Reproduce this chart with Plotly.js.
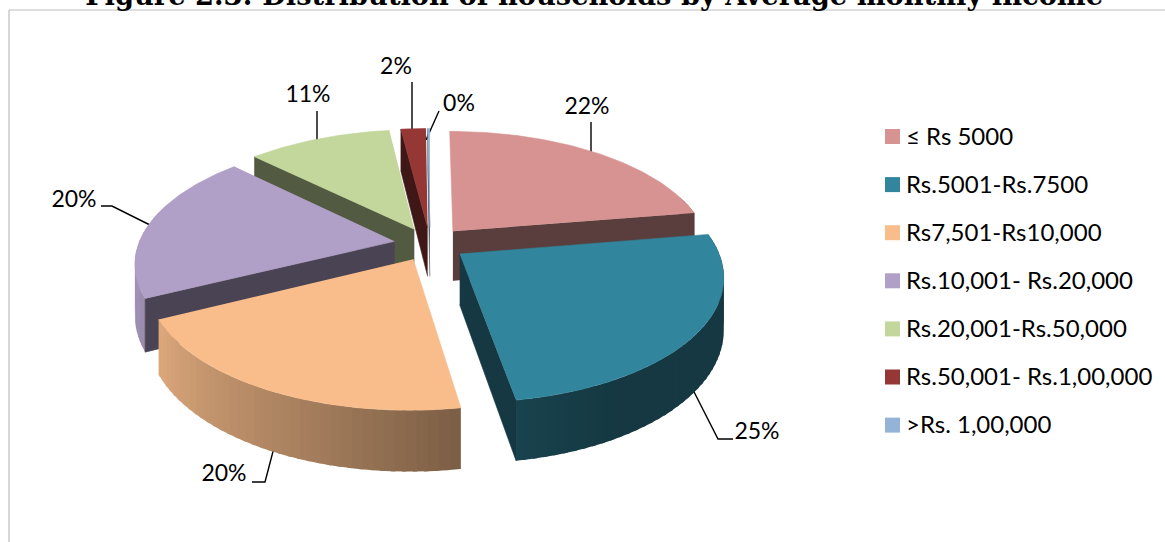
<!DOCTYPE html>
<html><head><meta charset="utf-8">
<script src="https://cdn.plot.ly/plotly-3.0.1.min.js"></script>
<style>html,body{margin:0;padding:0;background:#fff}#chart{width:1165px;height:542px}</style>
</head><body><div id="chart"></div>
<script>
var categories = ['≤ Rs 5000','Rs.5001-Rs.7500','Rs7,501-Rs10,000','Rs.10,001- Rs.20,000','Rs.20,001-Rs.50,000','Rs.50,001- Rs.1,00,000','>Rs. 1,00,000'];
var shares = [22.4,25.0,20.3,19.6,10.7,1.85,0.15];
var colors = ['#D79391','#31859C','#F8BD8B','#B09FC6','#C3D69B','#953735','#95B3D7'];
var drawOrder = [4,5,6,0,3,1,2];

// picture geometry of the tilted disc
var geo = {cx:430, cy:244, R:256, k:0.47, p:0.165, h:50, pull:36};
var labelPos = [[587,108.5],[757,433.5],[224,475.5],[74,201.5],[308,96.5],[396,68.5],[459,105.5]];
var leaderPaths = [
  [[591,160],[591,122]],
  [[688,380],[718,439],[733,439]],
  [[276,440],[265,482],[252,482]],
  [[158,229],[112,206],[101,206]],
  [[317,150],[317,111]],
  [[412,140],[412,82]],
  [[426,140],[439,111]]
];
var legendX = 892.5, legendTextX = 906, legendTop = 136.5, legendStep = 48.1;
var FONT = 'Lato, Carlito, sans-serif';

function rad(a){return a*Math.PI/180;}
function shade(hex,f){
  var n=parseInt(hex.slice(1),16);
  return 'rgb('+[(n>>16)&255,(n>>8)&255,n&255].map(function(c){return Math.round(c*f);}).join(',')+')';
}
// brightness of the outer wall by facing angle
var wallStops=[[0,.42],[150,.42],[171,.5],[205,.7],[241,.88],[270,.92],[360,.92]];
function wallShade(t){
  for(var i=1;i<wallStops.length;i++){
    if(t<=wallStops[i][0]){
      var a=wallStops[i-1],b=wallStops[i];
      return a[1]+(b[1]-a[1])*(t-a[0])/(b[0]-a[0]);
    }
  }
  return .9;
}
function project(x,y,z){
  var s=1/(1+geo.p*y/geo.R);
  return [geo.cx+x*s, geo.cy-geo.k*y*s+z*geo.h*s];
}
function poly(pts,fill,w){
  return {type:'scatter',mode:'lines',x:pts.map(function(p){return p[0];}),y:pts.map(function(p){return p[1];}),
    fill:'toself',fillcolor:fill,line:{color:fill,width:w===undefined?0.6:w},hoverinfo:'skip',showlegend:false};
}
var total=shares.reduce(function(a,b){return a+b;},0);
var starts=[],acc=0;
shares.forEach(function(v){starts.push(acc/total*360);acc+=v;});

var traces=[];
// leader lines
leaderPaths.forEach(function(path){
  traces.push({type:'scatter',mode:'lines',x:path.map(function(p){return p[0];}),y:path.map(function(p){return p[1];}),
    line:{color:'#000',width:1.4},hoverinfo:'skip',showlegend:false});
});
// slices back to front
drawOrder.forEach(function(i){
  var a0=starts[i], a1=a0+shares[i]/total*360, mid=(a0+a1)/2;
  var ox=geo.pull*Math.sin(rad(mid)), oy=geo.pull*Math.cos(rad(mid));
  function rim(t,z){return project(ox+geo.R*Math.sin(rad(t)),oy+geo.R*Math.cos(rad(t)),z);}
  function apex(z){return project(ox,oy,z);}
  var flat=shade(colors[i],.42);
  // outer wall, front-facing part only
  var step=2;
  for(var t=a0;t<a1;t+=step){
    if(Math.cos(rad(t))>0.3 && Math.cos(rad(Math.min(t+step,a1)))>0.3) continue;
    var e=Math.min(t+step+0.8,a1);
    traces.push(poly([rim(t,0),rim(e,0),rim(e,1),rim(t,1)],shade(colors[i],wallShade(t+step/2)),0));
  }
  // cut faces that turn towards the viewer
  if(Math.sin(rad(a0))<-0.001) traces.push(poly([apex(0),rim(a0,0),rim(a0,1),apex(1)],flat));
  if(Math.sin(rad(a1))>0.001) traces.push(poly([apex(0),rim(a1,0),rim(a1,1),apex(1)],flat));
  var top=[apex(0)];
  for(var t2=a0;t2<a1;t2+=1){top.push(rim(t2,0));}
  top.push(rim(a1,0));
  traces.push(poly(top,colors[i]));
});
// data labels
traces.push({type:'scatter',mode:'text',x:labelPos.map(function(p){return p[0];}),y:labelPos.map(function(p){return p[1];}),
  text:shares.map(function(v){return Math.round(v)+'%';}),textposition:'middle center',
  textfont:{family:FONT,size:23,color:'#000'},hoverinfo:'skip',showlegend:false});
// legend
categories.forEach(function(c,i){
  traces.push({type:'scatter',mode:'markers',name:c,x:[legendX],y:[legendTop+i*legendStep],
    marker:{symbol:'square',size:15,color:colors[i],line:{width:0}},hoverinfo:'name',showlegend:false});
  traces.push({type:'scatter',mode:'text',x:[legendTextX],y:[legendTop+2*1+i*legendStep],
    text:[c],textposition:'middle right',textfont:{family:FONT,size:24,color:'#000'},hoverinfo:'skip',showlegend:false,cliponaxis:false});
});

var layout={
  width:1165,height:542,margin:{l:0,r:0,t:0,b:0},paper_bgcolor:'#fff',plot_bgcolor:'#fff',showlegend:false,
  title:{text:'<b>Figure 2.3: Distribution of households by Average monthly income</b>',x:0.51,xanchor:'center',y:1,yanchor:'bottom',pad:{b:-5},
    font:{family:'"DejaVu Serif", serif',size:27.3,color:'#000'}},
  xaxis:{range:[0,1165],visible:false,fixedrange:true},
  yaxis:{range:[542,0],visible:false,fixedrange:true},
  shapes:[
    {type:'line',xref:'x',yref:'y',x0:9,y0:10,x1:1165,y1:10,line:{color:'#BDBDBD',width:1.2},layer:'below'},
    {type:'line',xref:'x',yref:'y',x0:9,y0:10,x1:9,y1:542,line:{color:'#BDBDBD',width:1.2},layer:'below'}
  ]
};
Plotly.newPlot('chart',traces,layout,{displayModeBar:false,staticPlot:true});
</script></body></html>
